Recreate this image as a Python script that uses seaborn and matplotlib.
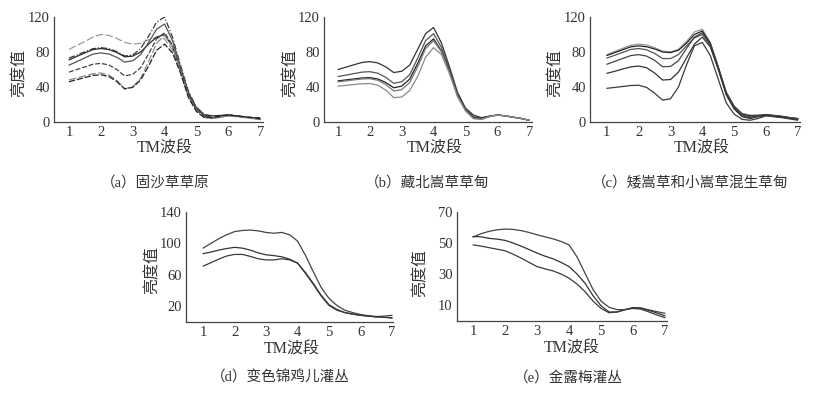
import pandas as pd
import matplotlib
matplotlib.use("Agg")
import matplotlib.pyplot as plt
import seaborn as sns

# ---- data (TM band vs brightness), read every 0.25 band ----
bands = [1, 1.25, 1.5, 1.75, 2, 2.25, 2.5, 2.75, 3, 3.25, 3.5, 3.75, 4,
         4.25, 4.5, 4.75, 5, 5.25, 5.5, 5.75, 6, 6.25, 6.5, 6.75, 7]

a_curves = {
    "a1": [83, 87.5, 92, 97, 100, 99, 95.5, 91, 89, 90, 94, 97, 95, 82, 58, 32, 17, 9, 7, 7, 8, 7, 6, 5, 4],
    "a2": [73, 76.6, 80.2, 83.8, 85, 83.8, 80.5, 75.5, 76.5, 84, 98, 114, 120, 97, 65, 35, 17, 8, 5, 6, 8, 7, 6, 5, 4],
    "a3": [71, 75, 79, 82.7, 84, 82.8, 79.5, 74.5, 75.3, 80, 89, 97, 100, 86, 60, 32, 15, 8, 7, 7.5, 8, 7, 5.5, 4.5, 3],
    "a4": [65, 69, 73.3, 77.5, 79, 77.7, 74, 68.5, 70, 77, 91, 106, 112, 93, 63, 34, 16, 7, 4, 5.5, 7, 6.5, 5.5, 4.5, 4],
    "a5": [57, 60, 63, 66, 67, 65.2, 60, 52.7, 54.5, 62, 78, 95, 102, 88, 61, 31, 14, 6, 5, 7, 8, 7, 6, 5, 5],
    "a6": [48, 50.4, 52.8, 55.2, 56, 53.7, 47.5, 38, 40, 50, 69, 90, 99, 86, 59, 29, 13, 5, 4, 6, 7, 6, 5, 4, 3],
    "a7": [46, 48.4, 50.8, 53.2, 54, 52, 46.3, 37.8, 39.6, 48, 64, 82, 89, 79, 56, 28, 12, 5, 5, 7, 8, 7, 6, 5, 4],
}
b_curves = {
    "b1": [60, 62.7, 65.4, 68, 69, 67.5, 63, 56.5, 58, 65, 83, 101, 108, 90, 63, 34, 16, 8, 5, 6.5, 8, 7, 5.5, 4, 2],
    "b2": [52, 53.6, 55.3, 57, 57.5, 55.8, 51, 44.2, 46, 54, 73, 93, 101, 85, 60, 32, 15, 6, 4.5, 6.5, 8, 7, 5.5, 4, 2],
    "b3": [47, 48.1, 49.2, 50.3, 50.7, 49.2, 45.2, 39.1, 41, 49, 67, 87, 95, 81, 58, 31, 14, 5, 4, 6.5, 8, 7, 5.5, 4, 2],
    "b4": [46, 47, 48.1, 49.2, 49.5, 47.7, 42.8, 35.4, 37, 45, 63, 84, 93, 80, 57, 30, 13, 4, 3, 6, 8, 7, 5.5, 4, 2],
    "b5": [41, 41.9, 42.8, 43.7, 44, 42, 36.4, 27.9, 28.5, 36, 52, 74, 85, 77, 55, 29, 13, 4, 3, 6, 8, 7, 5.5, 4, 2],
}
c_curves = {
    "c1": [77, 80.6, 84.2, 87.8, 89, 88, 85, 81, 80, 83, 92, 103, 106, 91, 63, 34, 18, 10, 8, 8, 8.5, 7.5, 6.5, 5, 4],
    "c2": [76, 79.3, 82.6, 85.9, 87, 86, 83.5, 80, 79.3, 82, 90, 100, 104, 90, 63, 34, 18, 9, 7, 7.5, 8.5, 7.5, 6.5, 5, 4],
    "c3": [73, 76.3, 79.6, 82.9, 84, 82.5, 78.4, 72.5, 72.5, 77, 87, 96, 100, 88, 62, 33, 17, 8, 6, 7, 8, 7, 6, 5, 3.5],
    "c4": [66, 69.3, 72.6, 75.9, 77, 75.3, 70.5, 63.2, 63.5, 70, 84, 97, 102, 89, 62, 33, 16, 7, 5, 6.5, 8, 7, 6, 4.5, 3],
    "c5": [55.6, 58, 60.6, 63, 64, 62, 56, 48, 48.5, 57, 73, 89, 97, 86, 60, 31, 15, 6, 4, 6, 7.5, 6.5, 5.5, 4, 3],
    "c6": [38.5, 39.5, 40.6, 41.7, 42, 39.5, 33, 25, 26.5, 40, 65, 87, 91, 76, 49, 22, 9, 3, 2, 4, 7, 6, 5, 3.5, 2],
}
d_curves = {
    "d1": [94, 100, 106, 111, 115, 116.5, 117, 116, 114, 113, 114, 111, 103, 85, 64, 44, 30, 21, 15, 12, 9.5, 8, 7, 7.5, 8.5],
    "d2": [87, 89, 91.5, 93.5, 95, 94, 91.5, 88, 85.5, 84.5, 83, 80, 75, 63, 49, 34, 22, 16, 12, 10, 8.5, 7.5, 6.5, 6, 5],
    "d3": [71, 75.5, 80, 84, 86, 86, 83.5, 80.5, 79, 79, 80.5, 79, 75, 62, 48, 33, 21, 15, 12, 10, 8.5, 7.5, 6.5, 6, 5.5],
}
e_curves = {
    "e1": [53.8, 56, 57.5, 58.5, 59, 58.8, 58, 56.8, 55.3, 54, 52.7, 51, 48.8, 41, 30.5, 20, 12.5, 8.5, 7, 7, 8.3, 8, 6.8, 5.7, 4.6],
    "e2": [54.2, 54, 53, 52.5, 51.7, 50, 48, 45.8, 43.5, 41.5, 39.8, 37.5, 34.8, 30, 24, 16, 9.5, 5.5, 5.5, 7, 8.3, 8, 6.5, 4.8, 3],
    "e3": [48.8, 48, 47, 46, 45, 42.8, 40.3, 37.5, 34.8, 33.3, 32, 30, 27.3, 23.5, 18.6, 12.5, 7.8, 5, 5.5, 7, 7.8, 7.3, 5.5, 3.5, 1.8],
}

captions = ["（a）固沙草草原", "（b）藏北嵩草草甸", "（c）矮嵩草和小嵩草混生草甸",
            "（d）变色锦鸡儿灌丛", "（e）金露梅灌丛"]

sns.set_style("white")
plt.rcParams["font.family"] = ["Liberation Serif", "Noto Sans CJK SC", "DejaVu Sans"]
TXT = "#333333"

W, H = 816, 393
fig = plt.figure(figsize=(W / 100, H / 100), dpi=100)


def make_ax(left, top, width, height):
    # pixel box -> figure fraction
    return fig.add_axes([left / W, 1 - (top + height) / H, width / W, height / H])


def to_long(curves):
    rows = []
    for name, vals in curves.items():
        for b, v in zip(bands, vals):
            rows.append({"band": b, "value": v, "curve": name})
    return pd.DataFrame(rows)


def draw(ax, curves, colors, dashes, xlim, ylim, yticks, ylab_x, ylab_y, xlab_x, xlab_y):
    df = to_long(curves)
    sns.lineplot(data=df, x="band", y="value", hue="curve", style="curve",
                 palette=colors, dashes=dashes, linewidth=0.9, legend=False, ax=ax)
    for ln in ax.lines:
        ln.set_solid_joinstyle("round")
        ln.set_dash_joinstyle("round")
    ax.set_xlim(*xlim)
    ax.set_ylim(*ylim)
    ax.set_xticks(range(1, 8))
    ax.set_yticks(yticks)
    ax.set_xlabel("")
    ax.set_ylabel("")
    ax.tick_params(direction="in", length=3, width=0.8, labelsize=10.5,
                   colors=TXT, pad=3)
    for s in ["top", "right"]:
        ax.spines[s].set_visible(False)
    for s in ["left", "bottom"]:
        ax.spines[s].set_color("#444444")
        ax.spines[s].set_linewidth(0.9)
    ax.text(ylab_x, ylab_y, "亮度值", rotation=90, ha="center", va="center",
            fontsize=11.5, color=TXT, transform=ax.transAxes)
    ax.text(xlab_x, xlab_y, "TM波段", ha="center", va="center",
            fontsize=11.5, color=TXT, transform=ax.transAxes)


grays_a = {"a1": "#9a9a9a", "a2": "#3a3a3a", "a3": "#2a2a2a", "a4": "#555555",
           "a5": "#444444", "a6": "#8a8a8a", "a7": "#222222"}
dash_a = {"a1": (6, 2), "a2": (5, 1.5, 1, 1.5), "a3": "", "a4": "",
          "a5": (4, 1.5), "a6": (6, 2), "a7": (5, 1.5)}
grays_b = {"b1": "#333333", "b2": "#555555", "b3": "#222222", "b4": "#777777", "b5": "#8a8a8a"}
grays_c = {"c1": "#999999", "c2": "#222222", "c3": "#555555", "c4": "#444444",
           "c5": "#333333", "c6": "#3a3a3a"}
grays_d = {"d1": "#444444", "d2": "#333333", "d3": "#3a3a3a"}
grays_e = {"e1": "#444444", "e2": "#333333", "e3": "#3a3a3a"}

ax_a = make_ax(54, 17, 209, 105)
draw(ax_a, a_curves, grays_a, dash_a, (0.53, 7.09), (0, 120), [0, 40, 80, 120],
     -0.163, 0.467, 0.53, -0.25)

ax_b = make_ax(324, 17, 208, 105)
draw(ax_b, b_curves, grays_b, {k: "" for k in b_curves}, (0.56, 7.09), (0, 120),
     [0, 40, 80, 120], -0.163, 0.467, 0.53, -0.25)

ax_c = make_ax(590, 17, 210, 105)
draw(ax_c, c_curves, grays_c, {k: "" for k in c_curves}, (0.47, 7.07), (0, 120),
     [0, 40, 80, 120], -0.163, 0.467, 0.53, -0.25)

ax_d = make_ax(186, 212, 207, 110)
draw(ax_d, d_curves, grays_d, {k: "" for k in d_curves}, (0.46, 7.03), (0, 140),
     [20, 60, 100, 140], -0.164, 0.47, 0.51, -0.25)

ax_e = make_ax(457, 212, 210, 108.5)
draw(ax_e, e_curves, grays_e, {k: "" for k in e_curves}, (0.5, 7.06), (0, 70),
     [10, 30, 50, 70], -0.176, 0.44, 0.545, -0.26)

cap_pos = [(155, 183), (427, 183), (690, 183), (280, 378), (568, 378)]
for (px, py), cap in zip(cap_pos, captions):
    fig.text(px / W, 1 - py / H, cap, ha="center", va="center", fontsize=10.5, color=TXT)

fig.savefig("out.png", dpi=100, facecolor="white")
